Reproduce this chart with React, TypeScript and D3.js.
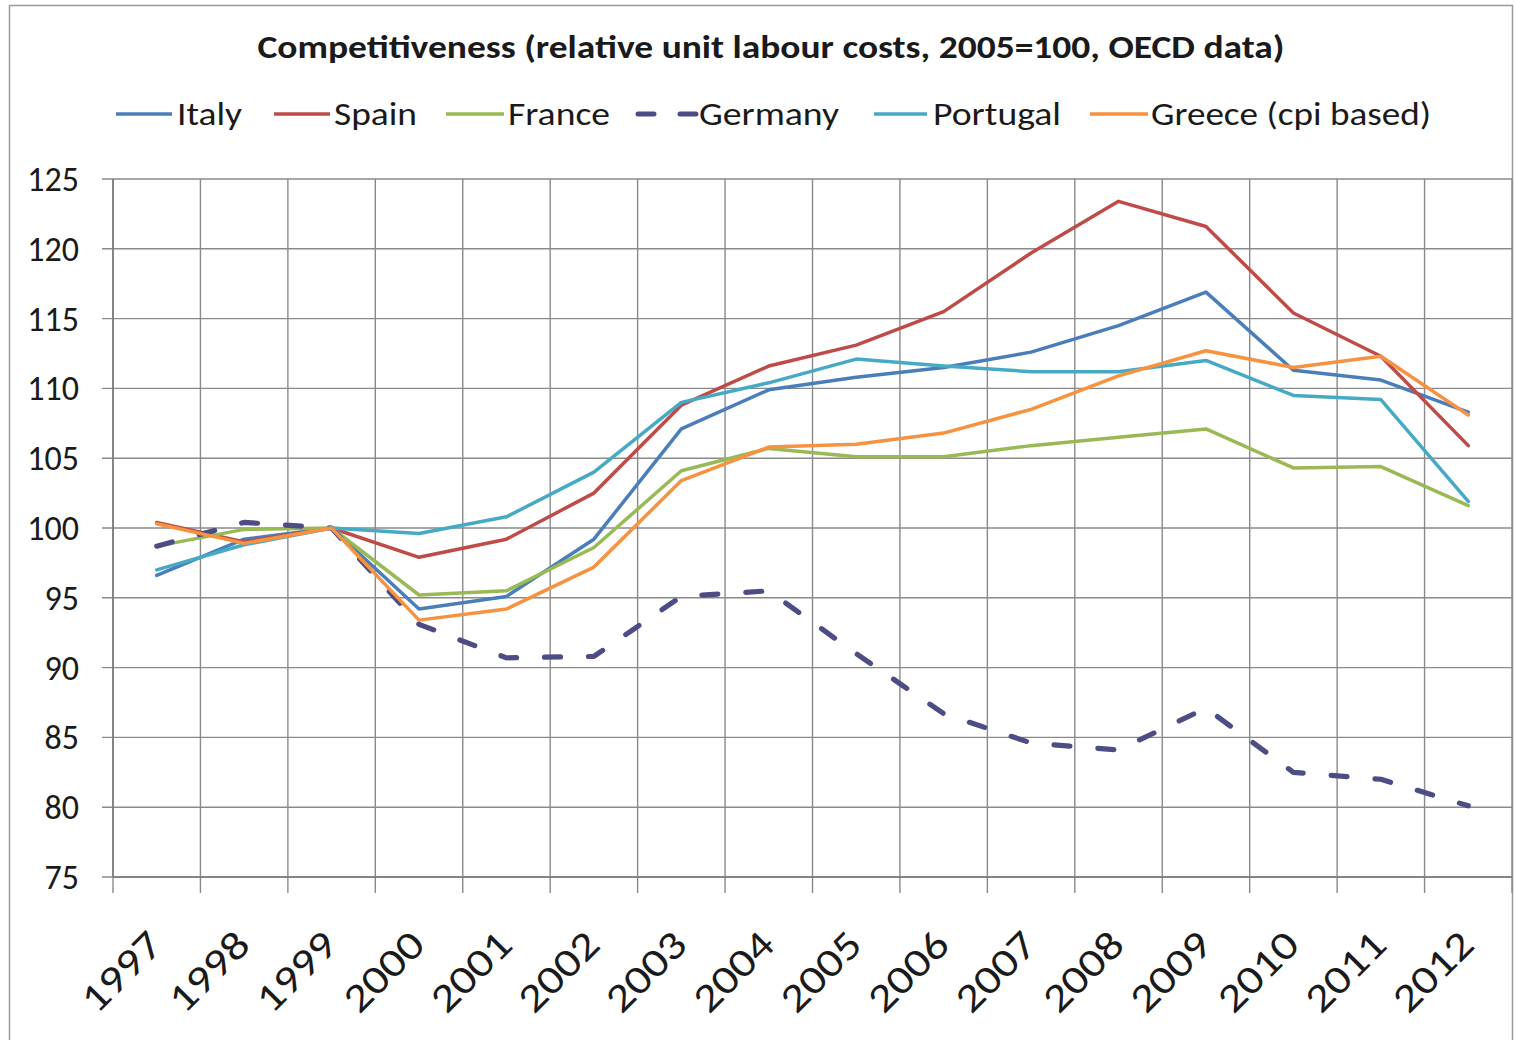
import React from "react";
import * as d3 from "d3";

const years = ["1997","1998","1999","2000","2001","2002","2003","2004","2005","2006","2007","2008","2009","2010","2011","2012"];

const italy    = [96.6, 99.2, 100, 94.2, 95.1, 99.2, 107.1, 109.9, 110.8, 111.5, 112.6, 114.5, 116.9, 111.3, 110.6, 108.3];
const spain    = [100.4, 99.0, 100, 97.9, 99.2, 102.5, 108.8, 111.6, 113.1, 115.5, 119.7, 123.4, 121.6, 115.4, 112.3, 105.9];
const france   = [98.7, 99.9, 100, 95.2, 95.5, 98.6, 104.1, 105.7, 105.1, 105.1, 105.9, 106.5, 107.1, 104.3, 104.4, 101.6];
const germany  = [98.7, 100.4, 100, 93.1, 90.7, 90.8, 95.1, 95.5, 91.0, 86.7, 84.6, 84.1, 87.1, 82.5, 82.0, 80.1];
const portugal = [97.0, 98.8, 100, 99.6, 100.8, 104.0, 109.0, 110.4, 112.1, 111.6, 111.2, 111.2, 112.0, 109.5, 109.2, 101.9];
const greece   = [100.3, 98.9, 100, 93.4, 94.2, 97.2, 103.4, 105.8, 106.0, 106.8, 108.5, 110.9, 112.7, 111.5, 112.3, 108.1];

const yTicks = [75, 80, 85, 90, 95, 100, 105, 110, 115, 120, 125];

const title = "Competitiveness (relative unit labour costs, 2005=100, OECD data)";

type Series = { name: string; values: number[]; color: string; dashed?: boolean };

const series: Series[] = [
  { name: "Italy", values: italy, color: "#4a7ebb" },
  { name: "Spain", values: spain, color: "#be4b48" },
  { name: "France", values: france, color: "#98b954" },
  { name: "Germany", values: germany, color: "#4d4d86", dashed: true },
  { name: "Portugal", values: portugal, color: "#46aac5" },
  { name: "Greece (cpi based)", values: greece, color: "#f69240" },
];

// legend placement: [line start, line end, text start, text width]
const legendLayout: [number, number, number, number][] = [
  [116, 172, 177, 65],
  [274, 330, 334, 83],
  [446, 504, 508, 102],
  [638, 698, 699, 140],
  [874, 927, 933, 128],
  [1090, 1148, 1151, 280],
];

const W = 1515;
const H = 1040;
const plot = { left: 113, right: 1512, top: 179, bottom: 877 };
const FONT = "Carlito, Calibri, 'Open Sans', sans-serif";
const GRID = "#8a8a8a";
const TEXT = "#1a1a1a";

export default function App() {
  const x = d3.scaleBand<string>().domain(years).range([plot.left, plot.right]).padding(0);
  const y = d3.scaleLinear().domain([75, 125]).range([plot.bottom, plot.top]);
  const bw = x.bandwidth();
  const cx = (yr: string) => (x(yr) as number) + bw / 2;

  const line = d3
    .line<number>()
    .x((_, i) => cx(years[i]))
    .y((v) => y(v));

  const boundaries = years.map((yr) => x(yr) as number).concat([plot.right]);

  return (
    <svg
      width={W}
      height={H}
      style={{ position: "absolute", left: 0, top: 0, background: "#fff" }}
      fontFamily={FONT}
    >
      <rect x={0} y={0} width={W} height={H} fill="#fff" />
      <rect x={9.5} y={5.5} width={1503} height={1100} fill="none" stroke="#9a9a9a" strokeWidth={1.5} />

      <text
        x={771}
        y={58}
        textAnchor="middle"
        fontSize={33}
        fontWeight="bold"
        fill={TEXT}
        textLength={1027}
        lengthAdjust="spacingAndGlyphs"
      >
        {title}
      </text>

      {/* legend */}
      {series.map((s, i) => {
        const [l0, l1, tx, tw] = legendLayout[i];
        return (
          <g key={s.name}>
            <line
              x1={l0}
              x2={l1}
              y1={114}
              y2={114}
              stroke={s.color}
              strokeWidth={s.dashed ? 5 : 3.5}
              strokeDasharray={s.dashed ? "16 26" : undefined}
              strokeLinecap={s.dashed ? "round" : "butt"}
            />
            <text
              x={tx}
              y={125}
              fontSize={33}
              fill={TEXT}
              textLength={tw}
              lengthAdjust="spacingAndGlyphs"
            >
              {s.name}
            </text>
          </g>
        );
      })}

      {/* horizontal gridlines and y ticks */}
      {yTicks.map((t) => (
        <g key={t}>
          <line x1={plot.left - 11} x2={plot.right} y1={y(t)} y2={y(t)} stroke={GRID} strokeWidth={1.4} />
          <text x={79} y={y(t)} dy="0.35em" textAnchor="end" fontSize={34} fill={TEXT}>
            {t}
          </text>
        </g>
      ))}

      {/* vertical gridlines at category boundaries, with ticks below the axis */}
      {boundaries.map((bx, i) => (
        <line key={i} x1={bx} x2={bx} y1={plot.top} y2={plot.bottom + 16} stroke={GRID} strokeWidth={1.4} />
      ))}

      {/* axis lines */}
      <line x1={plot.left} x2={plot.left} y1={plot.top} y2={plot.bottom} stroke="#7a7a7a" strokeWidth={1.6} />
      <line x1={plot.left} x2={plot.right} y1={plot.bottom} y2={plot.bottom} stroke="#7a7a7a" strokeWidth={1.6} />

      {/* category labels */}
      {years.map((yr) => {
        const px = cx(yr) + 8;
        const py = 947;
        return (
          <text
            key={yr}
            x={px}
            y={py}
            textAnchor="end"
            fontSize={40}
            fill={TEXT}
            textLength={96}
            lengthAdjust="spacingAndGlyphs"
            transform={`rotate(-45 ${px} ${py})`}
          >
            {yr}
          </text>
        );
      })}

      {/* series lines */}
      {series.map((s) => (
        <path
          key={s.name}
          d={line(s.values) as string}
          fill="none"
          stroke={s.color}
          strokeWidth={s.dashed ? 5.2 : 3.5}
          strokeDasharray={s.dashed ? "16 28" : undefined}
          strokeLinecap="round"
          strokeLinejoin="round"
        />
      ))}
    </svg>
  );
}
